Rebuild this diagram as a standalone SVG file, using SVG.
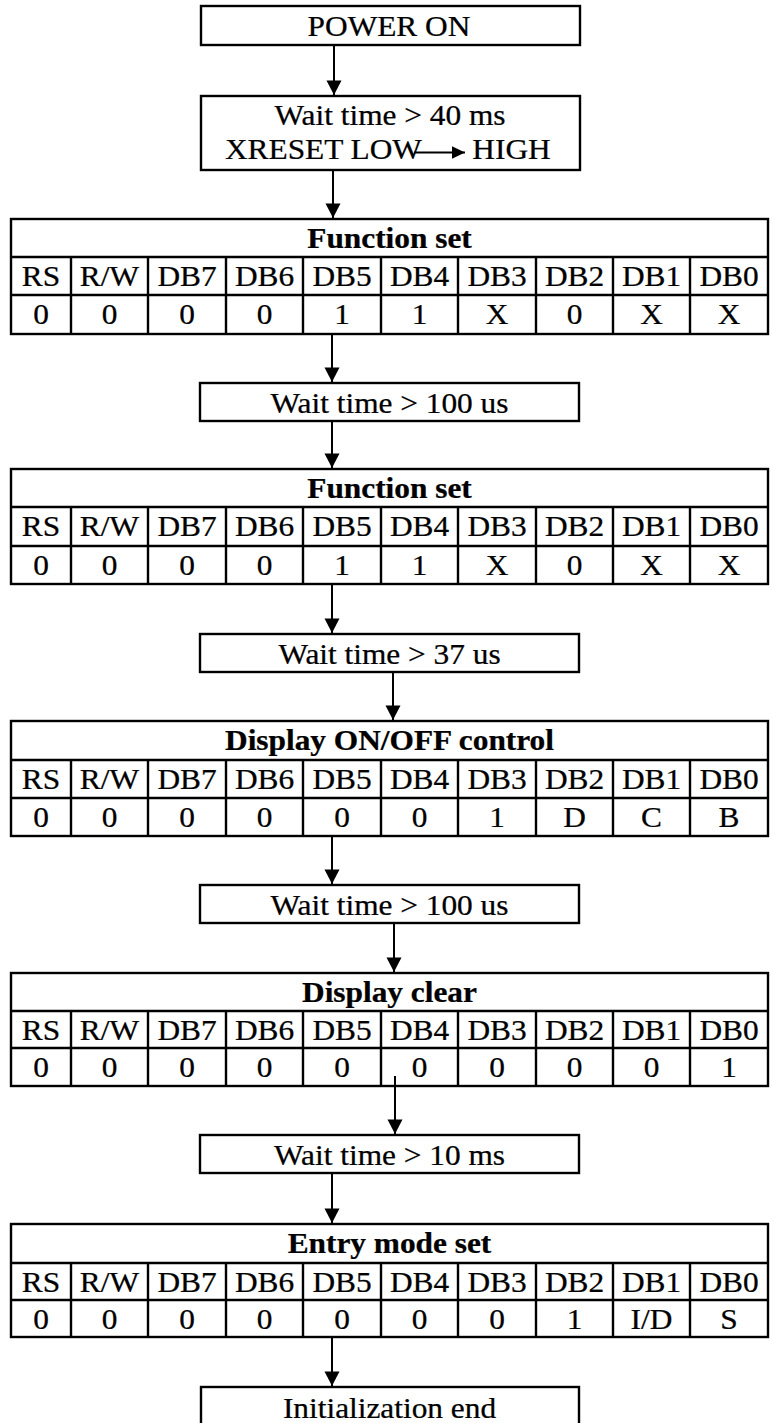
<svg xmlns="http://www.w3.org/2000/svg" width="773" height="1423" viewBox="0 0 773 1423">
<style>
text { font-family: "Liberation Serif", "Times New Roman", serif; font-size: 28.5px; fill: #000; stroke: #000; stroke-width: 0.25; text-anchor: middle; transform-box: fill-box; transform-origin: center; transform: scaleX(1.1); }
.b { font-weight: bold; }
.box { fill: #fff; stroke: #000; stroke-width: 2.4; }
.grid { stroke: #000; stroke-width: 2.4; fill: none; }
.con { stroke: #000; stroke-width: 2; fill: none; marker-end: url(#ah); }
</style>
<defs>
<marker id="ah" markerUnits="userSpaceOnUse" markerWidth="16" markerHeight="16" viewBox="0 -8 15 16" refX="14.5" refY="0" orient="auto">
<path d="M0,-7.5 L14.5,0 L0,7.5 Z" fill="#000"/>
</marker>
<marker id="ahs" markerUnits="userSpaceOnUse" markerWidth="14" markerHeight="14" viewBox="0 -7 14 14" refX="13.5" refY="0" orient="auto">
<path d="M0,-6.5 L13.5,0 L0,6.5 Z" fill="#000"/>
</marker>
</defs>
<rect width="773" height="1423" fill="#fff"/>

<g id="connectors">
<line class="con" x1="334" y1="45" x2="334" y2="95"/>
<line class="con" x1="333" y1="170" x2="333" y2="218"/>
<line class="con" x1="332" y1="334" x2="332" y2="382"/>
<line class="con" x1="332" y1="421" x2="332" y2="468"/>
<line class="con" x1="332" y1="584" x2="332" y2="633"/>
<line class="con" x1="393" y1="672" x2="393" y2="720"/>
<line class="con" x1="332" y1="836" x2="332" y2="884"/>
<line class="con" x1="394" y1="923" x2="394" y2="972"/>
<line class="con" x1="395" y1="1076" x2="395" y2="1134"/>
<line class="con" x1="332" y1="1173" x2="332" y2="1223"/>
<line class="con" x1="332" y1="1337" x2="332" y2="1386"/>
</g>

<g id="power_on">
<rect class="box" x="201" y="6" width="379" height="39"/>
<text x="389" y="36">POWER ON</text>
</g>

<g id="wait_40ms">
<rect class="box" x="201" y="96" width="379" height="74"/>
<text x="390" y="125">Wait time &gt; 40 ms</text>
<text x="323.5" y="159">XRESET LOW</text>
<line x1="414" y1="152.5" x2="465" y2="152.5" stroke="#000" stroke-width="2" marker-end="url(#ahs)"/>
<text x="511.5" y="159">HIGH</text>
</g>

<g id="function_set_1">
<rect class="grid" x="11" y="219" width="757" height="115"/>
<path class="grid" d="M11,257H768M11,295H768M71,257V334M148,257V334M226,257V334M303,257V334M381,257V334M458,257V334M536,257V334M613,257V334M690,257V334"/>
<text class="b" x="389.5" y="248">Function set</text>
<text x="41" y="286">RS</text><text x="109.5" y="286">R/W</text><text x="187" y="286">DB7</text><text x="264.5" y="286">DB6</text><text x="342" y="286">DB5</text><text x="419.5" y="286">DB4</text><text x="497" y="286">DB3</text><text x="574.5" y="286">DB2</text><text x="651.5" y="286">DB1</text><text x="729" y="286">DB0</text>
<text x="41" y="324">0</text><text x="109.5" y="324">0</text><text x="187" y="324">0</text><text x="264.5" y="324">0</text><text x="342" y="324">1</text><text x="419.5" y="324">1</text><text x="497" y="324">X</text><text x="574.5" y="324">0</text><text x="651.5" y="324">X</text><text x="729" y="324">X</text>
</g>

<g id="wait_100us_1">
<rect class="box" x="200" y="383" width="379" height="38"/>
<text x="389.5" y="413">Wait time &gt; 100 us</text>
</g>

<g id="function_set_2">
<rect class="grid" x="11" y="469" width="757" height="115"/>
<path class="grid" d="M11,507H768M11,546H768M71,507V584M148,507V584M226,507V584M303,507V584M381,507V584M458,507V584M536,507V584M613,507V584M690,507V584"/>
<text class="b" x="389.5" y="498">Function set</text>
<text x="41" y="536">RS</text><text x="109.5" y="536">R/W</text><text x="187" y="536">DB7</text><text x="264.5" y="536">DB6</text><text x="342" y="536">DB5</text><text x="419.5" y="536">DB4</text><text x="497" y="536">DB3</text><text x="574.5" y="536">DB2</text><text x="651.5" y="536">DB1</text><text x="729" y="536">DB0</text>
<text x="41" y="575">0</text><text x="109.5" y="575">0</text><text x="187" y="575">0</text><text x="264.5" y="575">0</text><text x="342" y="575">1</text><text x="419.5" y="575">1</text><text x="497" y="575">X</text><text x="574.5" y="575">0</text><text x="651.5" y="575">X</text><text x="729" y="575">X</text>
</g>

<g id="wait_37us">
<rect class="box" x="200" y="634" width="379" height="38"/>
<text x="389.5" y="664">Wait time &gt; 37 us</text>
</g>

<g id="display_on_off">
<rect class="grid" x="11" y="721" width="757" height="115"/>
<path class="grid" d="M11,760H768M11,798H768M71,760V836M148,760V836M226,760V836M303,760V836M381,760V836M458,760V836M536,760V836M613,760V836M690,760V836"/>
<text class="b" x="389.5" y="750">Display ON/OFF control</text>
<text x="41" y="789">RS</text><text x="109.5" y="789">R/W</text><text x="187" y="789">DB7</text><text x="264.5" y="789">DB6</text><text x="342" y="789">DB5</text><text x="419.5" y="789">DB4</text><text x="497" y="789">DB3</text><text x="574.5" y="789">DB2</text><text x="651.5" y="789">DB1</text><text x="729" y="789">DB0</text>
<text x="41" y="827">0</text><text x="109.5" y="827">0</text><text x="187" y="827">0</text><text x="264.5" y="827">0</text><text x="342" y="827">0</text><text x="419.5" y="827">0</text><text x="497" y="827">1</text><text x="574.5" y="827">D</text><text x="651.5" y="827">C</text><text x="729" y="827">B</text>
</g>

<g id="wait_100us_2">
<rect class="box" x="200" y="885" width="379" height="38"/>
<text x="389.5" y="915">Wait time &gt; 100 us</text>
</g>

<g id="display_clear">
<rect class="grid" x="11" y="973" width="757" height="113"/>
<path class="grid" d="M11,1011H768M11,1048H768M71,1011V1086M148,1011V1086M226,1011V1086M303,1011V1086M381,1011V1086M458,1011V1086M536,1011V1086M613,1011V1086M690,1011V1086"/>
<text class="b" x="389.5" y="1002">Display clear</text>
<text x="41" y="1040">RS</text><text x="109.5" y="1040">R/W</text><text x="187" y="1040">DB7</text><text x="264.5" y="1040">DB6</text><text x="342" y="1040">DB5</text><text x="419.5" y="1040">DB4</text><text x="497" y="1040">DB3</text><text x="574.5" y="1040">DB2</text><text x="651.5" y="1040">DB1</text><text x="729" y="1040">DB0</text>
<text x="41" y="1077">0</text><text x="109.5" y="1077">0</text><text x="187" y="1077">0</text><text x="264.5" y="1077">0</text><text x="342" y="1077">0</text><text x="419.5" y="1077">0</text><text x="497" y="1077">0</text><text x="574.5" y="1077">0</text><text x="651.5" y="1077">0</text><text x="729" y="1077">1</text>
</g>

<g id="wait_10ms">
<rect class="box" x="200" y="1135" width="379" height="38"/>
<text x="389.5" y="1165">Wait time &gt; 10 ms</text>
</g>

<g id="entry_mode_set">
<rect class="grid" x="11" y="1224" width="757" height="113"/>
<path class="grid" d="M11,1263H768M11,1300H768M71,1263V1337M148,1263V1337M226,1263V1337M303,1263V1337M381,1263V1337M458,1263V1337M536,1263V1337M613,1263V1337M690,1263V1337"/>
<text class="b" x="389.5" y="1253">Entry mode set</text>
<text x="41" y="1292">RS</text><text x="109.5" y="1292">R/W</text><text x="187" y="1292">DB7</text><text x="264.5" y="1292">DB6</text><text x="342" y="1292">DB5</text><text x="419.5" y="1292">DB4</text><text x="497" y="1292">DB3</text><text x="574.5" y="1292">DB2</text><text x="651.5" y="1292">DB1</text><text x="729" y="1292">DB0</text>
<text x="41" y="1329">0</text><text x="109.5" y="1329">0</text><text x="187" y="1329">0</text><text x="264.5" y="1329">0</text><text x="342" y="1329">0</text><text x="419.5" y="1329">0</text><text x="497" y="1329">0</text><text x="574.5" y="1329">1</text><text x="651.5" y="1329">I/D</text><text x="729" y="1329">S</text>
</g>

<g id="init_end">
<rect class="box" x="201" y="1387" width="378" height="45"/>
<text x="389.5" y="1418">Initialization end</text>
</g>
</svg>
